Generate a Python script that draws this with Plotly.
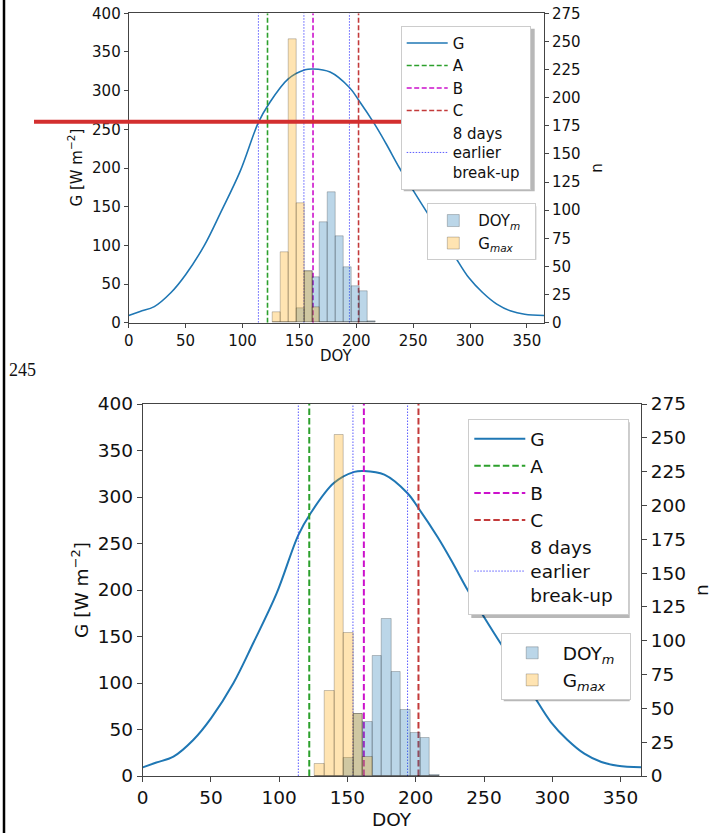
import plotly.graph_objects as go

# ---------------- data ----------------
doy_curve = [0, 10, 22.5, 37, 50, 66.5, 81, 98, 114, 123, 140, 155, 162, 177,
             194, 202, 216, 226, 238, 250, 262, 275, 287, 299, 311, 323.5, 336, 348, 365]
g_curve = [9.3, 14.5, 20.8, 38.7, 62, 100, 143, 196, 259, 282.5, 315, 327, 328, 324,
           304, 288, 257, 232, 200, 171, 143, 114, 85, 58, 39, 24, 15, 11, 9.3]

breakup_names = ["A", "B", "C"]
breakup_doy = [122, 162, 202]
breakup_colors = ["#2ca02c", "#cc11cc", "#c33a3a"]
days_earlier = 8

bin_edges = [126.3, 133.3, 140.3, 147.3, 154.3, 161.3, 168.3, 175.3,
             182.3, 189.3, 196.3, 203.3, 210.3, 217.3]
n_doy_m = [0, 0, 0, 13, 46, 40, 89, 116, 77, 49, 32, 28, 1]
n_g_max = [9, 63, 252, 106, 46, 14, 0, 0, 0, 0, 0, 0, 0]

x_ticks = [0, 50, 100, 150, 200, 250, 300, 350]
g_ticks = [0, 50, 100, 150, 200, 250, 300, 350, 400]
n_ticks = [0, 25, 50, 75, 100, 125, 150, 175, 200, 225, 250, 275]

W, H = 711, 833
FONT = "DejaVu Sans"
NB = "\u00a0"
TH = "\u2009"

bin_left = bin_edges[:-1]
bin_width = [b - a for a, b in zip(bin_edges[:-1], bin_edges[1:])]

fig = go.Figure()


def add_panel(xa, ya, ya2, leg_lines, leg_bars, lw, dash, pad_lines, pad_bars):
    fig.add_trace(go.Scatter(x=doy_curve, y=g_curve, mode="lines", name="G",
                             line=dict(color="#1f77b4", width=lw, shape="spline"),
                             xaxis=xa, yaxis=ya, legend=leg_lines))
    for nm, d, c in zip(breakup_names, breakup_doy, breakup_colors):
        fig.add_trace(go.Scatter(x=[d, d], y=[0, 400], mode="lines", name=nm,
                                 line=dict(color=c, width=lw, dash=dash),
                                 xaxis=xa, yaxis=ya, legend=leg_lines))
    ex, ey = [], []
    for d in breakup_doy:
        ex += [d - days_earlier, d - days_earlier, None]
        ey += [0, 400, None]
    fig.add_trace(go.Scatter(x=ex, y=ey, mode="lines",
                             name="8 days<br>earlier<br>break-up" + pad_lines,
                             line=dict(color="rgba(50,50,255,0.8)", width=1, dash="1.5px,1.5px"),
                             xaxis=xa, yaxis=ya, legend=leg_lines))
    fig.add_trace(go.Bar(x=bin_left, y=n_doy_m, width=bin_width, offset=0,
                         name="DOY<sub><i>m</i></sub>" + pad_bars,
                         marker=dict(color="rgba(31,119,180,0.3)",
                                     line=dict(color="rgba(0,0,0,0.22)", width=1)),
                         xaxis=xa, yaxis=ya2, legend=leg_bars))
    fig.add_trace(go.Bar(x=bin_left, y=n_g_max, width=bin_width, offset=0,
                         name="G<sub><i>max</i></sub>",
                         marker=dict(color="rgba(255,165,0,0.3)",
                                     line=dict(color="rgba(0,0,0,0.22)", width=1)),
                         xaxis=xa, yaxis=ya2, legend=leg_bars))


add_panel("x", "y", "y2", "legend", "legend2", 1.6, "5px,2.5px", NB, NB + NB)
add_panel("x2", "y3", "y4", "legend3", "legend4", 2.0, "6.5px,3px", NB + TH, NB + TH)


def px_x(p):
    return p / W


def px_y(p):
    return 1 - p / H


def axis_common(fs, tl):
    return dict(showgrid=False, zeroline=False, showline=True, linecolor="#444",
                linewidth=1, ticks="outside", ticklen=tl, tickwidth=1, tickcolor="#444",
                automargin=False,
                tickfont=dict(family=FONT, size=fs, color="#111"))


top_fs, bot_fs = 15, 18.5
layout = dict(
    template="none",
    width=W, height=H, margin=dict(l=0, r=0, t=0, b=0, pad=0), autosize=False,
    paper_bgcolor="white", plot_bgcolor="white", barmode="overlay", bargap=0,
    xaxis=dict(domain=[px_x(128.7), px_x(544)], anchor="y", range=[0, 365],
               tickvals=x_ticks, mirror=True, **axis_common(top_fs, 4)),
    yaxis=dict(domain=[px_y(322.7), px_y(13.3)], anchor="x", range=[0, 400],
               tickvals=g_ticks, **axis_common(top_fs, 4)),
    yaxis2=dict(overlaying="y", side="right", anchor="x", range=[0, 275],
                tickvals=n_ticks, **axis_common(top_fs, 4)),
    xaxis2=dict(domain=[px_x(142.7), px_x(641)], anchor="y3", range=[0, 365],
                tickvals=x_ticks, mirror=True, **axis_common(bot_fs, 5)),
    yaxis3=dict(domain=[px_y(776), px_y(404)], anchor="x2", range=[0, 400],
                tickvals=g_ticks, **axis_common(bot_fs, 5)),
    yaxis4=dict(overlaying="y3", side="right", anchor="x2", range=[0, 275],
                tickvals=n_ticks, **axis_common(bot_fs, 5)),
    showlegend=True,
)

# legend boxes: left, top, right, bottom (px)
legend_boxes = {
    "legend": (400.7, 25.7, 531.7, 188.3),
    "legend2": (427.3, 203.3, 533.3, 256.7),
    "legend3": (468.3, 419.3, 626.7, 615.0),
    "legend4": (500.7, 633.3, 626.7, 698.3),
}
legend_fs = {"legend": top_fs, "legend2": top_fs, "legend3": bot_fs, "legend4": bot_fs}
legend_itemw = {"legend": 41, "legend2": 40, "legend3": 51, "legend4": 51}

for key, (l, t, r, b) in legend_boxes.items():
    layout[key] = dict(x=px_x(l), y=px_y(t), xanchor="left", yanchor="top",
                       bgcolor="white", bordercolor="#cccccc", borderwidth=1,
                       itemwidth=legend_itemw[key],
                       font=dict(family=FONT, size=legend_fs[key], color="#111"),
                       traceorder="normal")

fig.update_layout(**layout)

# soft shadows behind the legend frames
for key, (l, t, r, b) in legend_boxes.items():
    fig.add_shape(type="rect", xref="paper", yref="paper",
                  x0=px_x(l + 3), x1=px_x(r + 3), y0=px_y(b + 3), y1=px_y(t + 3),
                  line=dict(width=0), fillcolor="rgba(0,0,0,0.28)", layer="above")


def ann(text, x, y, fs, angle=0, family=FONT, xanchor="center"):
    fig.add_annotation(text=text, x=px_x(x), y=px_y(y), xref="paper", yref="paper",
                       showarrow=False, textangle=angle, xanchor=xanchor, yanchor="middle",
                       font=dict(family=family, size=fs, color="#111"))


ann("G [W m<sup>\u22122</sup>]", 75.5, 168, top_fs, -90)
ann("DOY", 336.4, 356, top_fs)
ann("n", 596.7, 168, top_fs, -90)
ann("G [W m<sup>\u22122</sup>]", 80, 590, bot_fs, -90)
ann("DOY", 391.9, 819, bot_fs)
ann("n", 701, 590, bot_fs, -90)
ann("245", 7, 370, 18, 0, "Liberation Serif", "left")

fig.add_shape(type="line", xref="paper", yref="paper", x0=px_x(34), x1=px_x(437.7),
              y0=px_y(121.7), y1=px_y(121.7), line=dict(color="#d32f2f", width=4), layer="above")
fig.add_shape(type="line", xref="paper", yref="paper", x0=px_x(4), x1=px_x(4),
              y0=0, y1=1, line=dict(color="black", width=2.5), layer="above")

fig.write_html("out.html", config={"displayModeBar": False},
               post_script="document.body.style.margin='0';document.body.style.overflow='hidden';")
